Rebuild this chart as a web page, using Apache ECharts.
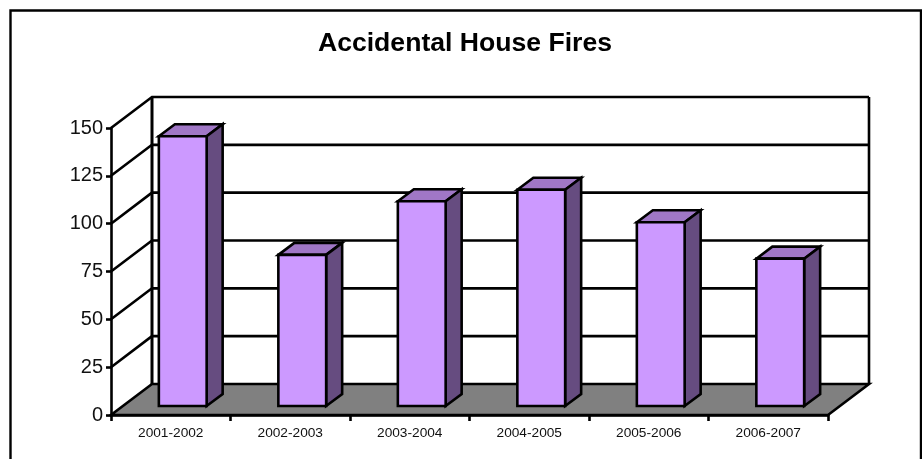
<!DOCTYPE html>
<html><head><meta charset="utf-8">
<style>html,body{margin:0;padding:0;background:#fff}#c{width:922px;height:459px}</style>
<script src="https://cdn.jsdelivr.net/npm/echarts@6/dist/echarts.min.js"></script>
</head><body><div id="c"></div>
<script>
const titleText = 'Accidental House Fires';
const categories = ['2001-2002','2002-2003','2003-2004','2004-2005','2005-2006','2006-2007'];
const fires = [141, 79, 107, 113, 96, 77];
const yTicks = [0, 25, 50, 75, 100, 125, 150];

const FONT = '"Liberation Sans", Arial, sans-serif';
const WALL_DX = 41, WALL_DY = -31;      // depth of the chart box
const BAR_DX = 16, BAR_DY = -12;        // depth of a bar
const BAR_SHIFT_X = 12, BAR_SHIFT_Y = -9; // bars stand mid-floor
const BAR_WIDTH_RATIO = 0.4;
const BLACK = '#000';
const LW = 2.6;

const chart = echarts.init(document.getElementById('c'), null, {renderer: 'canvas'});

function line(points, w) {
  return {type: 'polyline', shape: {points}, style: {stroke: BLACK, lineWidth: w, fill: null, lineJoin: 'miter'}};
}
function poly(points, fill) {
  return {type: 'polygon', shape: {points}, style: {fill, stroke: BLACK, lineWidth: LW, lineJoin: 'miter'}};
}

chart.setOption({
  animation: false,
  backgroundColor: '#fff',
  title: {
    text: titleText, left: 460, top: 25, textAlign: 'center',
    textStyle: {fontFamily: FONT, fontSize: 26.6, fontWeight: 'bold', color: BLACK}
  },
  grid: {left: 111, right: 94, top: 128, bottom: 44, containLabel: false},
  xAxis: {
    type: 'category', data: categories, boundaryGap: true,
    axisLine: {show: true, onZero: false, lineStyle: {color: BLACK, width: LW}},
    axisTick: {show: true, alignWithLabel: false, length: 6, lineStyle: {color: BLACK, width: LW}},
    axisLabel: {fontFamily: FONT, fontSize: 13.7, color: '#111', margin: 11, interval: 0},
    splitLine: {show: false}
  },
  yAxis: {
    type: 'value', min: 0, max: 150, interval: 25,
    axisLine: {show: true, lineStyle: {color: BLACK, width: LW}},
    axisTick: {show: true, length: 5, lineStyle: {color: BLACK, width: LW}},
    axisLabel: {fontFamily: FONT, fontSize: 20, color: '#111', margin: 8},
    splitLine: {show: false}
  },
  graphic: [{
    type: 'polyline', z: 0, silent: true,
    shape: {points: [[10.5, 470], [10.5, 10.5], [921, 10.5], [921, 470]]},
    style: {stroke: BLACK, lineWidth: 2.4, fill: null}
  }],
  series: [
    {
      // floor, back wall and gridlines
      type: 'custom', z: 1, silent: true, clip: false,
      data: yTicks,
      encode: {y: 0},
      renderItem(params, api) {
        const g = params.coordSys;
        const x0 = g.x, x1 = g.x + g.width;
        const v = api.value(0);
        const y = api.coord([0, v])[1];
        const children = [];
        if (v === 0) {
          children.push(poly([[x0, y], [x1, y], [x1 + WALL_DX, y + WALL_DY], [x0 + WALL_DX, y + WALL_DY]], '#808080'));
          const topY = g.y;
          children.push(line([[x0 + WALL_DX, y + WALL_DY], [x0 + WALL_DX, topY + WALL_DY]], 3));
          children.push(line([[x1 + WALL_DX, y + WALL_DY], [x1 + WALL_DX, topY + WALL_DY]], LW));
        } else {
          children.push(line([[x0, y], [x0 + WALL_DX, y + WALL_DY], [x1 + WALL_DX, y + WALL_DY]], LW));
        }
        return {type: 'group', children};
      }
    },
    {
      // the 3-D bars
      type: 'custom', z: 3, silent: true, clip: false,
      data: categories.map((c, i) => [i, fires[i]]),
      encode: {x: 0, y: 1},
      renderItem(params, api) {
        const i = api.value(0), v = api.value(1);
        const base = api.coord([i, 0]), top = api.coord([i, v]);
        const w = api.size([1, 0])[0] * BAR_WIDTH_RATIO;
        const l = base[0] - w / 2 + BAR_SHIFT_X, r = l + w;
        const b = base[1] + BAR_SHIFT_Y, t = top[1] + BAR_SHIFT_Y;
        return {type: 'group', children: [
          poly([[l, t], [l + BAR_DX, t + BAR_DY], [r + BAR_DX, t + BAR_DY], [r, t]], '#A077C6'),
          poly([[r, t], [r + BAR_DX, t + BAR_DY], [r + BAR_DX, b + BAR_DY], [r, b]], '#664C80'),
          poly([[l, t], [r, t], [r, b], [l, b]], '#CC99FF')
        ]};
      }
    }
  ]
});
</script></body></html>
